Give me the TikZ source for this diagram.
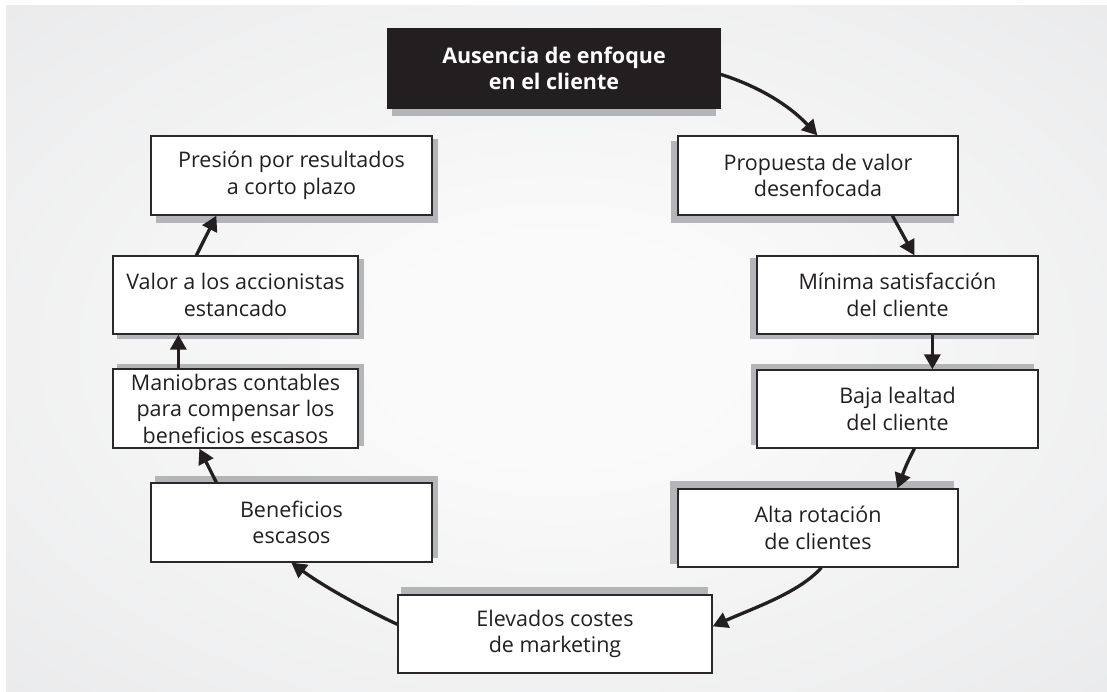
\documentclass[tikz,border=0pt]{standalone}
\usepackage{fontspec}
\setmainfont{Open Sans}
\usetikzlibrary{calc,arrows.meta,backgrounds}
\definecolor{bgin}{HTML}{FAFAFA}
\definecolor{bgmid}{HTML}{E2E3E5}
\definecolor{bgout}{HTML}{D9DADC}
\definecolor{shc}{HTML}{B4B5B8}
\definecolor{txt}{HTML}{231F20}
\definecolor{boxline}{HTML}{2B2829}
\pgfdeclareradialshading{bgshade}{\pgfpoint{0bp}{0bp}}{color(0bp)=(bgin); color(8bp)=(bgin); color(50bp)=(bgmid); color(72bp)=(bgout)}
\newcommand{\boxshadow}[5]{\fill[shc] ($(#1.north west)+(#2,#3)$) rectangle ($(#1.south east)+(#4,#5)$);}
\tikzset{
  box/.style={draw=boxline, line width=1.3pt, fill=white, align=center, text=txt,
    font=\fontsize{21.5}{26.5}\selectfont, inner sep=0pt},
  darkbox/.style={draw=txt, line width=1.3pt, fill=txt, align=center, text=white,
    font=\fontsize{21.5}{26.5}\selectfont\bfseries, inner sep=0pt},
  flow/.style={draw=txt, line width=3.3pt, -{Triangle[length=15pt,width=16pt]}}
}
\begin{document}
\begin{tikzpicture}[x=1pt,y=-1pt]
\useasboundingbox (0,0) rectangle (1107,692);
\begin{pgfonlayer}{background}
\fill[white] (0,0) rectangle (1107,692);
\shade[shading=bgshade] (6,6) rectangle (1107,692);
\end{pgfonlayer}

\node[darkbox, minimum width=332pt, minimum height=79pt] (aus) at (554,68.5) {Ausencia de enfoque\\en el cliente};
\node[box, minimum width=281pt, minimum height=79pt] (pres) at (291.5,175.5) {Presión por resultados\\a corto plazo};
\node[box, minimum width=280pt, minimum height=79pt] (prop) at (818,175.5) {Propuesta de valor\\desenfocada};
\node[box, minimum width=245pt, minimum height=78pt] (valor) at (235.5,295) {Valor a los accionistas\\estancado};
\node[box, minimum width=281pt, minimum height=78pt] (min) at (897.5,295) {Mínima satisfacción\\del cliente};
\node[box, minimum width=245pt, minimum height=79pt] (man) at (235.5,408.5) {Maniobras contables\\para compensar los\\beneficios escasos};
\node[box, minimum width=281pt, minimum height=78pt] (baja) at (897.5,409) {Baja lealtad\\del cliente};
\node[box, minimum width=281pt, minimum height=79pt] (ben) at (291.5,522.5) {Beneficios\\escasos};
\node[box, minimum width=280pt, minimum height=78pt] (alta) at (818,528) {Alta rotación\\de clientes};
\node[box, minimum width=314pt, minimum height=78pt] (elev) at (555,634) {Elevados costes\\de marketing};

\begin{pgfonlayer}{background}
\boxshadow{aus}{5}{7}{-5}{7}
\boxshadow{pres}{6}{4}{5}{7}
\boxshadow{prop}{-6}{6}{-5}{7}
\boxshadow{valor}{5}{4}{5}{4}
\boxshadow{min}{-6}{3}{-5}{4}
\boxshadow{man}{5}{-4}{5}{-3}
\boxshadow{baja}{-5}{-5}{-5}{-4}
\boxshadow{ben}{5}{-6}{5}{-5}
\boxshadow{alta}{-7}{-7}{-5}{-4}
\boxshadow{elev}{4}{-7}{-5}{-7}
\end{pgfonlayer}

\draw[flow] ($(aus.north east)+(0,46)$) .. controls ($(aus.north east)+(38,58)$) and ($(prop.north west)+(112,-30)$) .. ($(prop.north west)+(140,0)$);
\draw[flow] ($(prop.south west)+(215,0)$) .. controls ($(prop.south west)+(222,13)$) .. ($(min.north west)+(158,0)$);
\draw[flow] ($(min.south west)+(176,0)$) -- ($(baja.north west)+(176,0)$);
\draw[flow] ($(baja.south west)+(158,0)$) .. controls ($(baja.south west)+(150,16)$) .. ($(alta.north west)+(220,0)$);
\draw[flow] ($(alta.south west)+(144,0)$) .. controls ($(alta.south west)+(122,25)$) and ($(elev.north east)+(40,14)$) .. ($(elev.north east)+(0,32)$);
\draw[flow] ($(elev.north west)+(0,30)$) .. controls ($(elev.north west)+(-30,16)$) and ($(ben.south west)+(175,25)$) .. ($(ben.south west)+(141,0)$);
\draw[flow] ($(ben.north west)+(66,0)$) -- ($(man.south west)+(87,0)$);
\draw[flow] ($(man.north west)+(66,0)$) -- ($(valor.south west)+(66,0)$);
\draw[flow] ($(valor.north west)+(84,0)$) -- ($(pres.south west)+(66,0)$);
\end{tikzpicture}
\end{document}
